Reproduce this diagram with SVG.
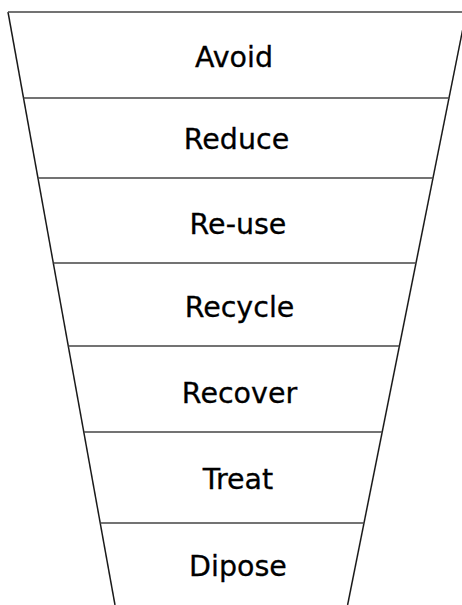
<svg xmlns="http://www.w3.org/2000/svg" width="462" height="605" viewBox="0 0 462 605">
  <style>
    .bg { fill: #ffffff; }
    .edge { stroke: #1a1a1a; stroke-width: 1.5; fill: none; }
    .div { stroke: #444444; stroke-width: 1.5; fill: none; }
    .lbl { font-family: "DejaVu Sans", "Comic Sans MS", sans-serif; font-size: 28.5px; fill: #000000; text-anchor: middle; stroke: #000000; stroke-width: 0.3; }
  </style>
  <rect class="bg" x="0" y="0" width="462" height="605"/>
  <g id="connectors">
    <line class="edge" x1="8" y1="12" x2="115" y2="605"/>
    <line class="edge" x1="466.2" y1="12" x2="347.6" y2="605"/>
    <line class="div" x1="8" y1="12" x2="462" y2="12"/>
    <line class="div" x1="23.5" y1="98" x2="449" y2="98"/>
    <line class="div" x1="37.9" y1="178" x2="433" y2="178"/>
    <line class="div" x1="53.3" y1="263" x2="416" y2="263"/>
    <line class="div" x1="68.3" y1="346" x2="399.4" y2="346"/>
    <line class="div" x1="83.8" y1="432" x2="382.2" y2="432"/>
    <line class="div" x1="100.2" y1="523" x2="364" y2="523"/>
  </g>
  <g id="avoid"><text class="lbl" x="234" y="66.5">Avoid</text></g>
  <g id="reduce"><text class="lbl" x="236.5" y="149">Reduce</text></g>
  <g id="reuse"><text class="lbl" x="238" y="234">Re-use</text></g>
  <g id="recycle"><text class="lbl" x="239.5" y="316.5">Recycle</text></g>
  <g id="recover"><text class="lbl" x="239.5" y="402.5">Recover</text></g>
  <g id="treat"><text class="lbl" x="238" y="489">Treat</text></g>
  <g id="dipose"><text class="lbl" x="238" y="576">Dipose</text></g>
</svg>
